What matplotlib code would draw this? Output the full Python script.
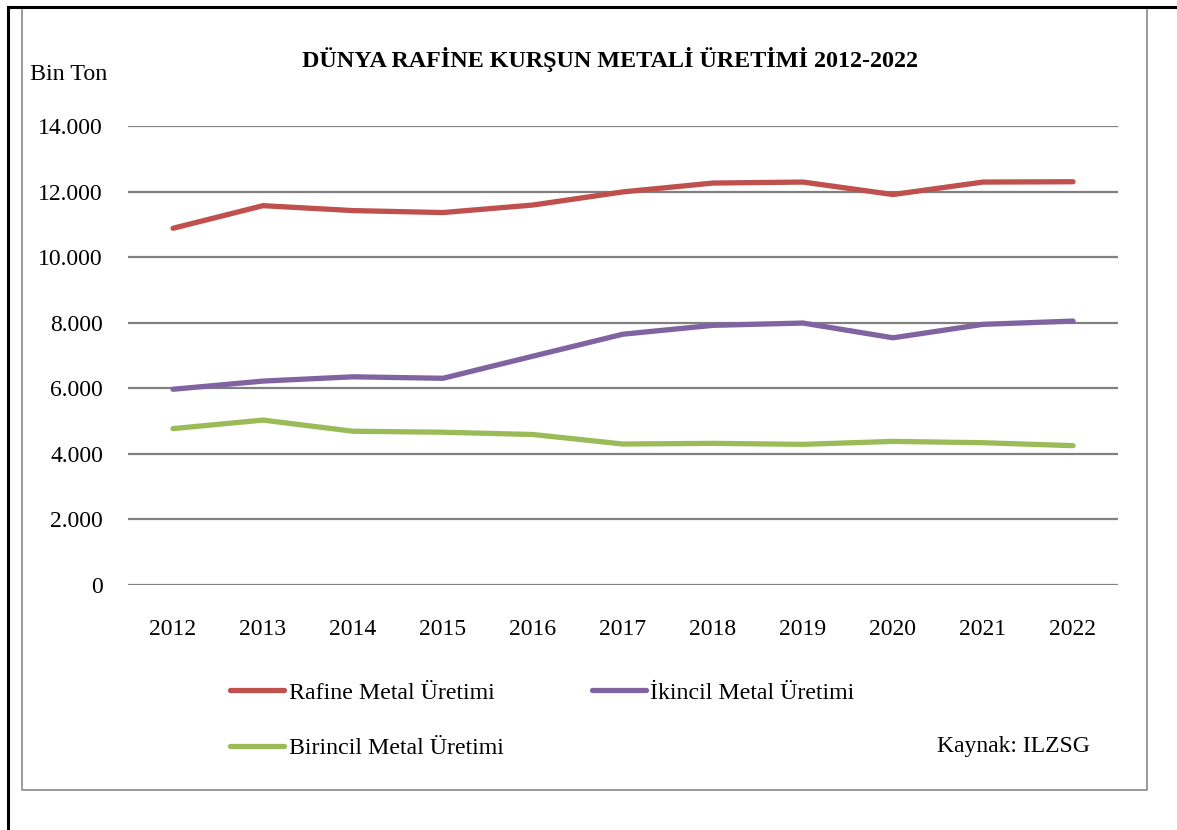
import matplotlib.pyplot as plt
from matplotlib.lines import Line2D
from matplotlib.ticker import FuncFormatter

years = ['2012', '2013', '2014', '2015', '2016', '2017', '2018', '2019', '2020', '2021', '2022']
rafine = [10880, 11570, 11420, 11360, 11590, 11990, 12260, 12290, 11910, 12290, 12300]
ikincil = [5970, 6220, 6350, 6305, 6980, 7650, 7920, 7990, 7540, 7950, 8050]
birincil = [4770, 5030, 4690, 4660, 4590, 4300, 4320, 4290, 4380, 4340, 4250]
yticks = [0, 2000, 4000, 6000, 8000, 10000, 12000, 14000]

plt.rcParams['font.family'] = ['Liberation Serif', 'DejaVu Serif']

W, H = 1177, 830
fig = plt.figure(figsize=(W / 100, H / 100), dpi=100)
ax = fig.add_axes([128 / W, 1 - 585 / H, (1118 - 128) / W, (585 - 126) / H])

x = range(len(years))
l1, = ax.plot(x, rafine, color='#C0504D', lw=3.8, solid_capstyle='round', solid_joinstyle='round', label='Rafine Metal Üretimi')
l2, = ax.plot(x, ikincil, color='#8064A2', lw=3.8, solid_capstyle='round', solid_joinstyle='round', label='İkincil Metal Üretimi')
l3, = ax.plot(x, birincil, color='#9BBB59', lw=3.8, solid_capstyle='round', solid_joinstyle='round', label='Birincil Metal Üretimi')

ax.set_xlim(-0.5, len(years) - 0.5)
ax.set_ylim(0, 14000)
ax.set_xticks(list(x))
ax.set_xticklabels(years)
ax.set_yticks(yticks)
ax.yaxis.set_major_formatter(FuncFormatter(lambda v, p: f'{int(v):,}'.replace(',', '.')))
ax.tick_params(length=0, labelsize=17, colors='black')
ax.tick_params(axis='y', pad=18)
ax.tick_params(axis='x', pad=24.5)
ax.grid(axis='y', color='#808080', lw=1.6)
ax.set_axisbelow(True)
for s in ax.spines.values():
    s.set_visible(False)

fig.text(610 / W, 1 - 59 / H, 'DÜNYA RAFİNE KURŞUN METALİ ÜRETİMİ 2012-2022',
         ha='center', va='center', fontsize=17.4, fontweight='bold')
fig.text(30 / W, 1 - 75 / H, 'Bin Ton', ha='left', va='center', fontsize=17.3)
fig.text(1090 / W, 1 - 746 / H, 'Kaynak: ILZSG', ha='right', va='center', fontsize=17)

fig.legend(handles=[l1, l3, l2], ncol=2, loc='upper left',
           bbox_to_anchor=(230 / W, 1 - 682 / H), frameon=False, fontsize=17.2,
           handlelength=2.25, handletextpad=0.2, columnspacing=3.7,
           labelspacing=1.42, borderpad=0, borderaxespad=0)

# outer frames
fig.add_artist(Line2D([8 / W, 1], [1 - 7 / H, 1 - 7 / H], color='black', lw=2.2))
fig.add_artist(Line2D([8 / W, 8 / W], [0, 1 - 7 / H], color='black', lw=2.2))
gx0, gx1, gy0, gy1 = 22 / W, 1146.5 / W, 1 - 789.5 / H, 1 - 10 / H
fig.add_artist(Line2D([gx0, gx0, gx1, gx1], [gy1, gy0, gy0, gy1], color='#888888', lw=1.2))

fig.savefig('out.png', dpi=100)
